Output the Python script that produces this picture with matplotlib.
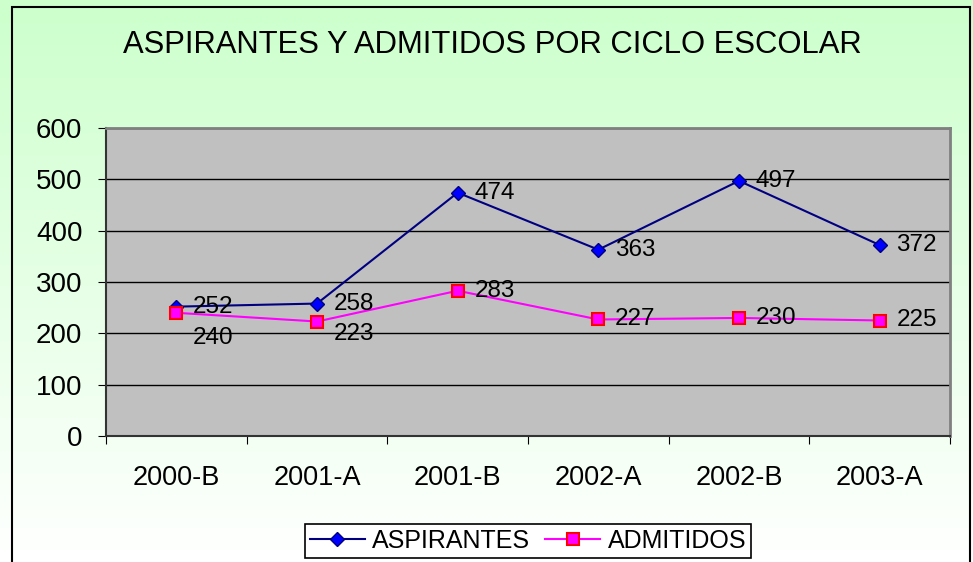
import matplotlib.pyplot as plt
import numpy as np
from matplotlib.patches import Rectangle

plt.rcParams['font.family'] = ['Liberation Sans', 'DejaVu Sans']

# data
ciclos = ['2000-B', '2001-A', '2001-B', '2002-A', '2002-B', '2003-A']
aspirantes = [252, 258, 474, 363, 497, 372]
admitidos = [240, 223, 283, 227, 230, 225]

W, H = 973, 562
fig = plt.figure(figsize=(W / 100, H / 100), dpi=100)

# green-to-white gradient background
bg = fig.add_axes([0, 0, 1, 1], zorder=-10)
grad = np.linspace(0, 1, 256).reshape(-1, 1)
top = np.array([0.80, 1.0, 0.80])
bottom = np.array([1.0, 1.0, 1.0])
img = top[None, None, :] * (1 - grad[:, :, None]) + bottom[None, None, :] * grad[:, :, None]
bg.imshow(img, aspect='auto', extent=[0, 1, 0, 1])
bg.set_xlim(0, 1)
bg.set_ylim(0, 1)
bg.axis('off')

# outer chart border
fig.patches.append(Rectangle((12 / W, -0.05), (970 - 12) / W, 1.05 - 7 / H,
                             transform=fig.transFigure, fill=False,
                             edgecolor='black', linewidth=1.5))

ax = fig.add_axes([106 / W, 1 - 436 / H, (950 - 106) / W, (436 - 128) / H])
ax.set_facecolor('#C0C0C0')
x = np.arange(len(ciclos))

ax.plot(x, aspirantes, color='#000080', linewidth=1.5, marker='D', markersize=7,
        markerfacecolor='#0000FF', markeredgecolor='#000080', label='ASPIRANTES', zorder=3)
ax.plot(x, admitidos, color='#FF00FF', linewidth=1.5, marker='s', markersize=8,
        markerfacecolor='#FF00FF', markeredgecolor='#FF0000', markeredgewidth=1.5,
        label='ADMITIDOS', zorder=3)

# data labels
for i, v in enumerate(aspirantes):
    ax.annotate(str(v), (x[i], v), xytext=(12, 0), textcoords='offset points',
                ha='left', va='center', fontsize=17.5, zorder=4)
adm_dy = [-18, -9, 0, 0, 0, 0]
for i, v in enumerate(admitidos):
    ax.annotate(str(v), (x[i], v), xytext=(12, adm_dy[i]), textcoords='offset points',
                ha='left', va='center', fontsize=17.5, zorder=4)

ax.set_xlim(-0.5, 5.5)
ax.set_ylim(0, 600)
ax.set_yticks(range(0, 601, 100))
ax.yaxis.grid(True, color='black', linewidth=1)
ax.set_axisbelow(True)
ax.set_xticks(np.arange(-0.5, 5.6, 1))
ax.set_xticklabels([])
ax.set_xticks(x, minor=True)
ax.set_xticklabels(ciclos, minor=True)
ax.tick_params(axis='x', which='minor', length=0, pad=21, labelsize=19.5)
ax.tick_params(axis='x', which='major', length=6, direction='out', color='black')
ax.tick_params(axis='y', length=6, direction='out', labelsize=20, pad=11)

for s in ('top', 'right'):
    ax.spines[s].set_color('#808080')
    ax.spines[s].set_linewidth(2)
for s in ('left', 'bottom'):
    ax.spines[s].set_color('#333333')
    ax.spines[s].set_linewidth(1.5)

fig.text(492 / W, 1 - 45 / H, 'ASPIRANTES Y ADMITIDOS POR CICLO ESCOLAR',
         ha='center', va='center', fontsize=22.3)

leg = fig.legend(loc='center', bbox_to_anchor=(528 / W, 1 - 541 / H), ncol=2,
                 fontsize=18, frameon=True, fancybox=False, framealpha=1,
                 edgecolor='black', handlelength=2.2, columnspacing=0.6,
                 borderpad=0.2, handletextpad=0.3)
leg.get_frame().set_linewidth(1.2)

fig.savefig('out.png', dpi=100)
